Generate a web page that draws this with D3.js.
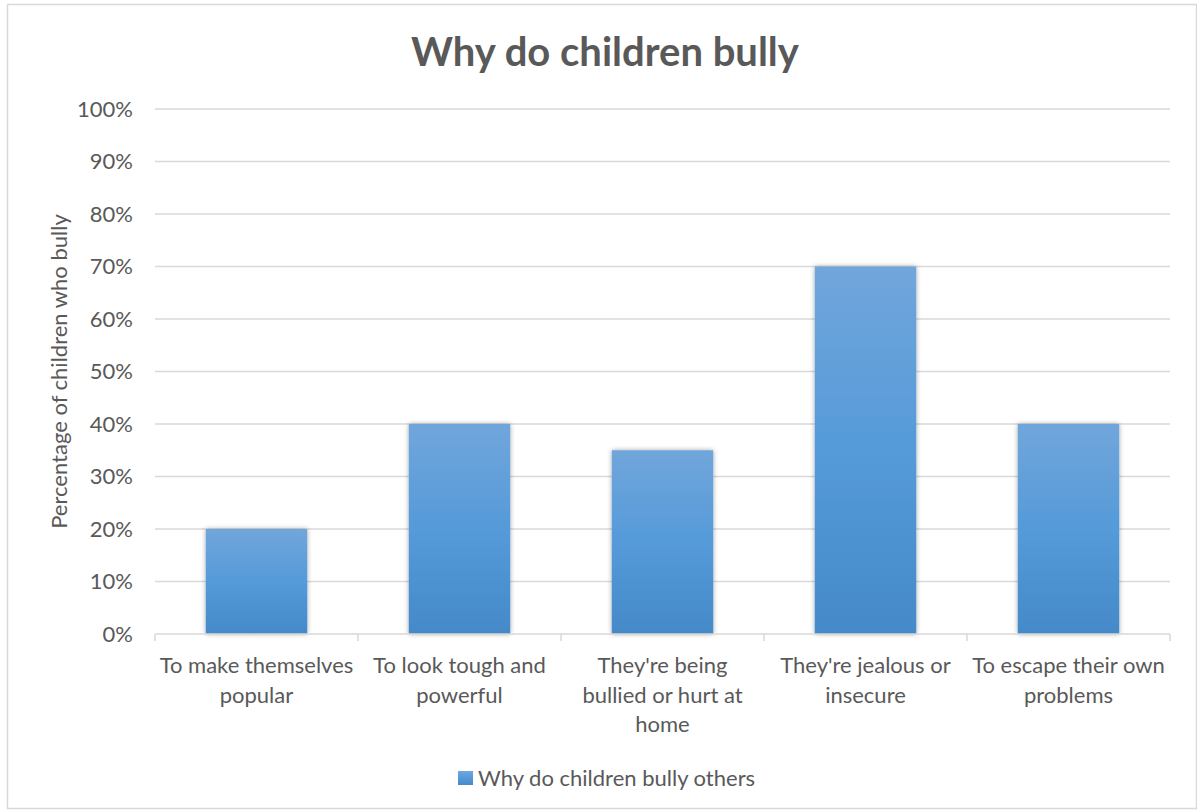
<!DOCTYPE html>
<html><head><meta charset="utf-8">
<script src="https://cdn.jsdelivr.net/npm/d3@7"></script>
<style>body{margin:0;background:#fff}svg{display:block}</style>
</head><body>
<svg id="c" width="1197" height="810"></svg>
<script>
const categories = [
  ["To make themselves", "popular"],
  ["To look tough and", "powerful"],
  ["They're being", "bullied or hurt at", "home"],
  ["They're jealous or", "insecure"],
  ["To escape their own", "problems"]
];
const values = [0.20, 0.40, 0.35, 0.70, 0.40];
const yTicks = [0, 0.1, 0.2, 0.3, 0.4, 0.5, 0.6, 0.7, 0.8, 0.9, 1.0];
const titleText = "Why do children bully";
const yTitle = "Percentage of children who bully";
const seriesName = "Why do children bully others";

const FONT = "Lato, 'Open Sans', sans-serif";
const TXT = "#595959";
const svg = d3.select("#c");
const W = 1197, H = 810;
const m = {left:155, right:1170, top:109, bottom:634};

svg.append("rect").attr("x",7.5).attr("y",4.5).attr("width",W-8).attr("height",H-6)
  .attr("fill","#fff").attr("stroke","#d9d9d9").attr("stroke-width",1.5);

const defs = svg.append("defs");
const g = defs.append("linearGradient").attr("id","bg").attr("x1",0).attr("y1",0).attr("x2",0).attr("y2",1);
g.append("stop").attr("offset","0%").attr("stop-color","#71a6db");
g.append("stop").attr("offset","50%").attr("stop-color","#559ad9");
g.append("stop").attr("offset","100%").attr("stop-color","#4589c8");
const f = defs.append("filter").attr("id","sh").attr("x","-20%").attr("y","-20%").attr("width","140%").attr("height","140%");
f.append("feGaussianBlur").attr("in","SourceAlpha").attr("stdDeviation",2.5).attr("result","b");
f.append("feOffset").attr("in","b").attr("dx",0).attr("dy",0).attr("result","o");
f.append("feComponentTransfer").attr("in","o").attr("result","o2").append("feFuncA").attr("type","linear").attr("slope",0.35);
const mg = f.append("feMerge"); mg.append("feMergeNode").attr("in","o2"); mg.append("feMergeNode").attr("in","SourceGraphic");

const x = d3.scaleBand().domain(d3.range(categories.length)).range([m.left, m.right]).paddingInner(0).paddingOuter(0);
const y = d3.scaleLinear().domain([0,1]).range([m.bottom, m.top]);

// gridlines
svg.append("g").selectAll("line").data(yTicks.filter(d=>d>0)).join("line")
  .attr("x1",m.left).attr("x2",m.right).attr("y1",d=>y(d)).attr("y2",d=>y(d))
  .attr("stroke","#d9d9d9").attr("stroke-width",1.5);

// y tick labels
svg.append("g").selectAll("text").data(yTicks).join("text")
  .attr("x",133).attr("y",d=>y(d)).attr("dy","0.35em").attr("text-anchor","end")
  .attr("font-family",FONT).attr("font-size",22).attr("fill",TXT)
  .text(d=>d3.format(".0%")(d));

// bars
const bw = x.bandwidth()*0.5;
svg.append("g").selectAll("rect").data(values).join("rect")
  .attr("x",(d,i)=>x(i)+(x.bandwidth()-bw)/2).attr("width",bw)
  .attr("y",d=>y(d)).attr("height",d=>y(0)-y(d))
  .attr("fill","url(#bg)").attr("filter","url(#sh)");

// x axis line + ticks
svg.append("line").attr("x1",m.left).attr("x2",m.right).attr("y1",y(0)).attr("y2",y(0))
  .attr("stroke","#d9d9d9").attr("stroke-width",1.5);
const bounds = d3.range(categories.length+1).map(i=> i<categories.length ? x(i) : x(i-1)+x.bandwidth());
svg.append("g").selectAll("line").data(bounds).join("line")
  .attr("x1",d=>d).attr("x2",d=>d).attr("y1",y(0)).attr("y2",y(0)+7)
  .attr("stroke","#d9d9d9").attr("stroke-width",1.5);

// category labels
const cl = svg.append("g").selectAll("text").data(categories).join("text")
  .attr("text-anchor","middle").attr("font-family",FONT).attr("font-size",22).attr("fill",TXT);
cl.each(function(lines,i){
  const t = d3.select(this);
  lines.forEach((ln,j)=>{
    t.append("tspan").attr("x",x(i)+x.bandwidth()/2).attr("y",673+j*29.5).text(ln);
  });
});

// title
svg.append("text").attr("x",605).attr("y",66).attr("text-anchor","middle")
  .attr("font-family",FONT).attr("font-weight","bold").attr("font-size",40).attr("fill",TXT).text(titleText);

// y title
svg.append("text").attr("transform",`translate(67,${(m.top+m.bottom)/2}) rotate(-90)`)
  .attr("text-anchor","middle").attr("font-family",FONT).attr("font-size",22).attr("fill",TXT).text(yTitle);

// legend
svg.append("rect").attr("x",458).attr("y",771).attr("width",15).attr("height",14).attr("fill","url(#bg)");
svg.append("text").attr("x",478).attr("y",778).attr("dy","0.35em")
  .attr("font-family",FONT).attr("font-size",22).attr("fill",TXT).text(seriesName);
</script>
</body></html>
